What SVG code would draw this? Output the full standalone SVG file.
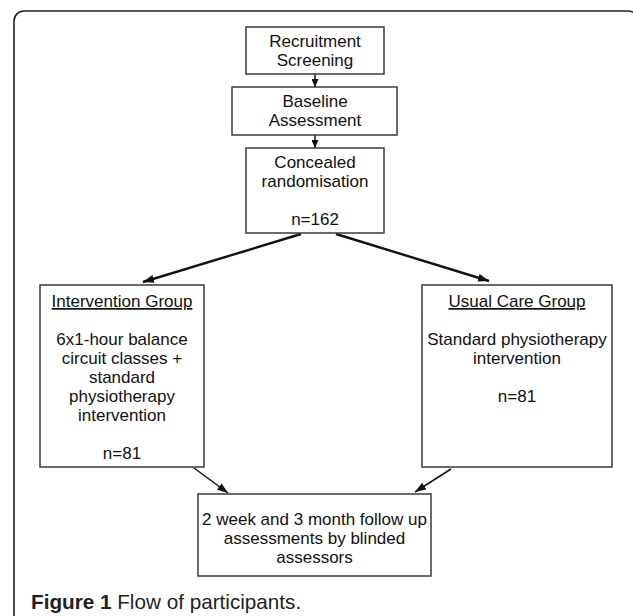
<svg xmlns="http://www.w3.org/2000/svg" width="633" height="616" viewBox="0 0 633 616">
<style>
  .box { fill: #ffffff; stroke: #3a3a3a; stroke-width: 1.5; }
  .t { font-family: "Liberation Sans", Arial, sans-serif; font-size: 17px; fill: #111; text-anchor: middle; }
  .u { text-decoration: underline; }
  .c1 { stroke: #111; stroke-width: 2.4; fill: none; }
  .c2 { stroke: #111; stroke-width: 1.5; fill: none; }
  .frame { fill: none; stroke: #222; stroke-width: 1.6; }
  .cap { font-family: "Liberation Sans", Arial, sans-serif; font-size: 20.7px; fill: #231f20; }
</style>
<defs>
  <marker id="ah" markerUnits="userSpaceOnUse" markerWidth="11" markerHeight="8" refX="11" refY="4" orient="auto">
    <path d="M0,0 L11,4 L0,8 z" fill="#111"/>
  </marker>
  <marker id="ahs" markerUnits="userSpaceOnUse" markerWidth="8" markerHeight="7" refX="8" refY="3.5" orient="auto">
    <path d="M0,0 L8,3.5 L0,7 z" fill="#111"/>
  </marker>
</defs>
<rect width="633" height="616" fill="#ffffff"/>
<rect class="frame" x="14" y="11" width="624" height="640" rx="10"/>

<g id="connectors">
  <line class="c2" x1="315" y1="74" x2="315" y2="87" marker-end="url(#ahs)"/>
  <line class="c2" x1="315" y1="135" x2="315" y2="148" marker-end="url(#ahs)"/>
  <line class="c1" x1="301" y1="234" x2="143" y2="282" marker-end="url(#ah)"/>
  <line class="c1" x1="336" y1="234" x2="489" y2="281" marker-end="url(#ah)"/>
  <line class="c2" x1="194" y1="468" x2="228" y2="493" marker-end="url(#ah)"/>
  <line class="c2" x1="451" y1="469" x2="415" y2="492" marker-end="url(#ah)"/>
</g>

<g id="recruitment">
  <rect class="box" x="246" y="27" width="138" height="47"/>
  <text class="t" x="315" y="47">Recruitment</text>
  <text class="t" x="315" y="66">Screening</text>
</g>

<g id="baseline">
  <rect class="box" x="232" y="87" width="165" height="48"/>
  <text class="t" x="315" y="107">Baseline</text>
  <text class="t" x="315" y="126">Assessment</text>
</g>

<g id="randomisation">
  <rect class="box" x="246" y="148" width="138" height="85"/>
  <text class="t" x="315" y="168">Concealed</text>
  <text class="t" x="315" y="187">randomisation</text>
  <text class="t" x="315" y="225">n=162</text>
</g>

<g id="intervention">
  <rect class="box" x="40" y="285" width="164" height="182"/>
  <text class="t u" x="122" y="307">Intervention Group</text>
  <text class="t" x="122" y="345">6x1-hour balance</text>
  <text class="t" x="122" y="364">circuit classes +</text>
  <text class="t" x="122" y="383">standard</text>
  <text class="t" x="122" y="402">physiotherapy</text>
  <text class="t" x="122" y="421">intervention</text>
  <text class="t" x="122" y="459">n=81</text>
</g>

<g id="usualcare">
  <rect class="box" x="422" y="285" width="190" height="182"/>
  <text class="t u" x="517" y="307">Usual Care Group</text>
  <text class="t" x="517" y="345">Standard physiotherapy</text>
  <text class="t" x="517" y="364">intervention</text>
  <text class="t" x="517" y="402">n=81</text>
</g>

<g id="followup">
  <rect class="box" x="198" y="494" width="233" height="82"/>
  <text class="t" x="314.5" y="525">2 week and 3 month follow up</text>
  <text class="t" x="314.5" y="544">assessments by blinded</text>
  <text class="t" x="314.5" y="563">assessors</text>
</g>

<text class="cap" x="31" y="609"><tspan font-weight="bold">Figure 1</tspan> Flow of participants.</text>
</svg>
